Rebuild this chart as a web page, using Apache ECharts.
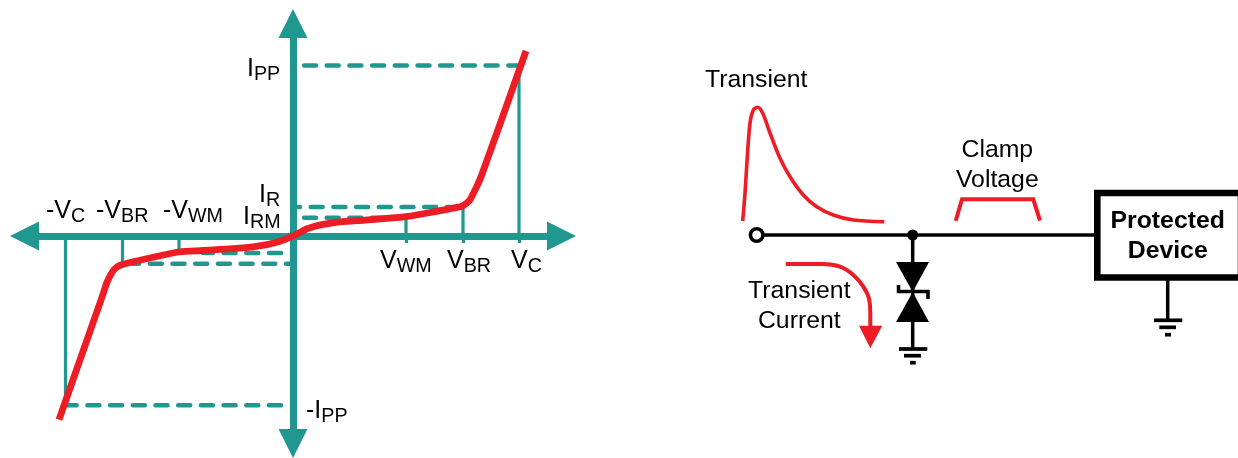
<!DOCTYPE html>
<html><head><meta charset="utf-8">
<style>html,body{margin:0;padding:0;background:#fff}#c{width:1238px;height:458px}</style>
<script src="https://cdn.jsdelivr.net/npm/echarts@6/dist/echarts.min.js"></script>
</head><body><div id="c"></div>
<script>
// ---- I-V characteristic (offsets from the origin)
const curveV = [-234,-191.3,-186.3,-183,-179.7,-176,-172,-163,-143,-114,-90,-60,-40,-26,-13,0,13.7,22,30.3,45,63.7,113,147,167,170.5,173.7,176.5,178.7,183.7,188.7,233];
const curveI = [-183.7,-62,-47,-40,-34.5,-31,-29,-26.5,-22,-16,-14.5,-12.7,-10.8,-8.7,-5.3,0,7.2,9.8,11.7,13.8,15.3,19.3,25.3,29.3,30.6,32.9,35.6,39.3,49.3,61,185];
const voltageTicks = [113,170,226];
const dropX = [[113,113],[170,170],[226,226],[-114,-114],[-170.5,-170.5],[-227.5,-227.5]];
const dropY = [[0,19],[0,28],[0,170],[0,-15],[0,-28],[0,-170]];
const dashX = [[11,226],[0,167],[11,100],[-12,-227],[-12,-90],[0,-168]];
const dashY = [[170.5,170.5],[29,29],[18.3,18.3],[-169.3,-169.3],[-17,-17],[-27.7,-27.7]];
const dashPhase = [0,5,0,0,0,5];
// ---- circuit schematic (page units)
const wire = [[757,235],[1094,235]];
const diodeLead = [[912.7,235],[912.7,349]];
const zenerBar = [[898.5,285],[898.5,291.6],[928,291.6],[928,299]];
const deviceBox = [[1170,193],[1241,193],[1241,277.5],[1097.3,277.5],[1097.3,193],[1170,193]];
const deviceLead = [[1167.7,280],[1167.7,320]];
const groundBars = [[[899,349],[927.3,349]],[[904,355.7],[921,355.7]],[[910,362.7],[915.7,362.7]],
  [[1154,320.3],[1182.3,320.3]],[[1159.3,327.3],[1176,327.3]],[[1165,334.7],[1171,334.7]]];
const pulse = [[742.7,221],[745,193.3],[747.3,156.7],[750,123.3],[753.3,110],[757.7,107.3],[762.7,113.3],[770,133],[780,158.3],[790,176.7],[803.3,195],[816.7,206.7],[833.3,215],[853.3,220],[884.3,221.7]];
const currentPath = [[785.7,264],[823.3,264],[840,266.7],[853.3,275],[863.3,286.7],[869.3,300],[870.3,313],[870.3,328]];
const clampPath = [[955.7,220.7],[962,199.3],[1033.3,199.3],[1040,220.7]];
const triangles = [[896,262,929,262,912.7,292],[896,322,929,322,912.7,292],[859,325.7,882.3,325.7,870.3,348.3]];
const triangleColors = ['#000','#000','#ee1c25'];
const openNode = [[756.7,235]];
const junction = [[912.7,235]];
// ---- texts
const subLabels = [
 ['I','PP',247,69],['I','R',259,195],['I','RM',243,217],
 ['-V','C',46,211],['-V','BR',96,211],['-V','WM',163,211],
 ['V','WM',380,261],['V','BR',447,261],['V','C',511,261],['-I','PP',306,411]];
const plainLabels = [['Transient',705,80],['Transient',799.3,291.5],['Current',799.3,321.5],['Clamp',997.3,150],['Voltage',997.3,180]];
const boldLabels = [['Protected',1167.7,221],['Device',1167.7,251.5]];

const TEAL='#20978f', RED='#ee1c25', FONT='"Liberation Sans",Arial,sans-serif';
const series=[];
function pairs(xs,ys){return xs.map((x,i)=>[x,ys[i]]);}
function poly(data,color,width,idx,z,extra){
  series.push(Object.assign({type:'line',data,xAxisIndex:idx,yAxisIndex:idx,showSymbol:false,symbol:'none',silent:true,clip:false,z,
    lineStyle:{color,width,cap:'butt',join:'miter'}},extra||{}));
}
dropX.forEach((x,i)=>poly(pairs(x,dropY[i]),TEAL,3.2,0,2));
dashX.forEach((x,i)=>poly(pairs(x,dashY[i]),TEAL,4.5,0,2,{lineStyle:{color:TEAL,width:4.5,type:[12,10.7],dashOffset:dashPhase[i],cap:'round'}}));
poly(pairs(curveV,curveI),RED,6.8,0,6,{smooth:0.3,lineStyle:{color:RED,width:6.8,cap:'butt',join:'round'}});

poly(wire,'#000',3.5,1,3);
poly(diodeLead,'#000',3.5,1,3);
poly(zenerBar,'#000',3.5,1,3);
poly(deviceBox,'#000',6.6,1,3);
poly(deviceLead,'#000',3.5,1,3);
groundBars.forEach(b=>poly(b,'#000',3.7,1,3));
poly(pulse,RED,3.6,1,4,{smooth:0.3,lineStyle:{color:RED,width:3.6}});
poly(currentPath,RED,4,1,4,{smooth:0.4,lineStyle:{color:RED,width:4}});
poly(clampPath,RED,4,1,4);

series.push({type:'custom',xAxisIndex:1,yAxisIndex:1,z:4,silent:true,clip:false,
  data:triangles,
  renderItem(p,api){
    const pts=[0,2,4].map(i=>api.coord([api.value(i),api.value(i+1)]));
    return {type:'polygon',shape:{points:pts},style:{fill:triangleColors[p.dataIndex]}};
  },
  encode:{x:[0,2,4],y:[1,3,5]}});
series.push({type:'scatter',data:openNode,xAxisIndex:1,yAxisIndex:1,symbol:'circle',symbolSize:12.5,z:5,silent:true,
  itemStyle:{color:'#fff',borderColor:'#000',borderWidth:3.6,opacity:1}});
series.push({type:'scatter',data:junction,xAxisIndex:1,yAxisIndex:1,symbol:'circle',symbolSize:11,z:5,silent:true,
  itemStyle:{color:'#000',opacity:1}});

function textSeries(rows,style,getAlign){
  series.push({type:'scatter',xAxisIndex:1,yAxisIndex:1,symbolSize:0,z:8,silent:true,itemStyle:{opacity:1},
    data:rows.map(r=>({value:[r[1],r[2]],name:r[0],
      label:{show:true,position:[0,0],align:getAlign(r),verticalAlign:'middle',formatter:r[0],fontFamily:FONT,color:'#000',fontSize:24.8,fontWeight:style}}))});
}
textSeries(plainLabels,'normal',r=>r[1]===705?'left':'center');
textSeries(boldLabels,'bold',()=>'center');
series.push({type:'scatter',xAxisIndex:1,yAxisIndex:1,symbolSize:0,z:8,silent:true,itemStyle:{opacity:1},
  data:subLabels.map(r=>({value:[r[2],r[3]],
    label:{show:true,position:[0,0],align:'left',verticalAlign:'middle',formatter:`{m|${r[0]}}{s|${r[1]}}`,
      rich:{m:{fontFamily:FONT,fontSize:25,color:'#000'},s:{fontFamily:FONT,fontSize:19.7,color:'#000',padding:[12,0,0,0]}}}}))});

const hidden={show:false,splitLine:{show:false}};
const axisBase={splitLine:{show:false},axisLabel:{show:false},z:3};
const chart=echarts.init(document.getElementById('c'),null,{renderer:'canvas'});
chart.setOption({animation:false,backgroundColor:'#fff',
  grid:[{left:24.5,top:23.5,width:537,height:420},{left:0,top:0,right:0,bottom:0}],
  xAxis:[Object.assign({type:'value',gridIndex:0,min:-268.5,max:268.5,
      axisLine:{show:true,onZero:true,symbol:['triangle','triangle'],symbolSize:[29,29],lineStyle:{color:TEAL,width:7}},
      axisTick:{show:true,customValues:voltageTicks,length:7,lineStyle:{color:TEAL,width:3.2}}},axisBase),
    Object.assign({type:'value',gridIndex:1,min:0,max:1238},hidden)],
  yAxis:[Object.assign({type:'value',gridIndex:0,min:-207.5,max:212.5,
      axisLine:{show:true,onZero:true,symbol:['triangle','triangle'],symbolSize:[29,29],lineStyle:{color:TEAL,width:7}},
      axisTick:{show:false}},axisBase),
    Object.assign({type:'value',gridIndex:1,min:0,max:458,inverse:true},hidden)],
  series});
</script></body></html>
